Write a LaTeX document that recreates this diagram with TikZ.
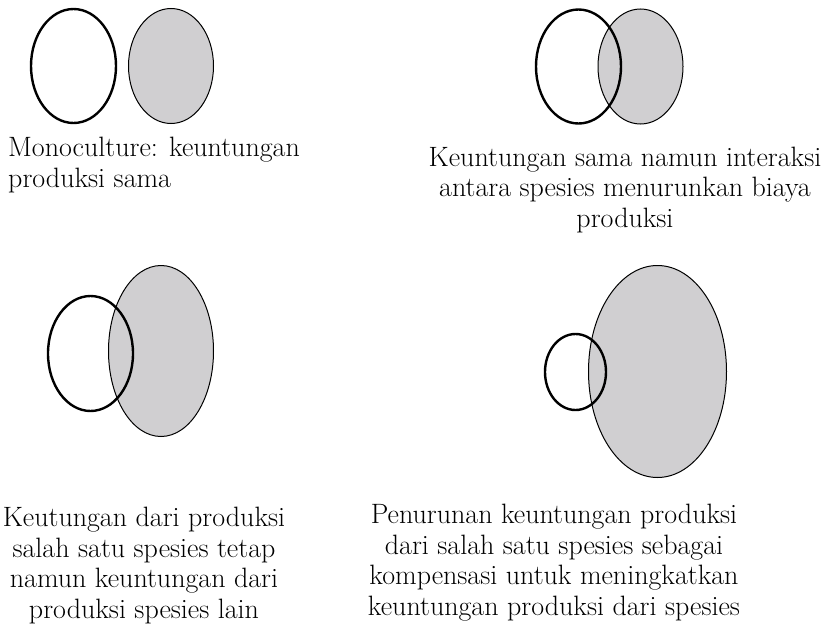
\documentclass[tikz,border=0pt]{standalone}
\usepackage{fontspec}
\usepackage{tikz}
\usetikzlibrary{shapes.geometric}
\definecolor{shade}{RGB}{208,207,209}

\begin{document}
\begin{tikzpicture}[
    x=1pt, y=-1pt,
    own/.style={ellipse, draw, line width=2.4pt, inner sep=0pt},
    other/.style={ellipse, draw, fill=shade, line width=1pt, inner sep=0pt},
    label text/.style={inner sep=0pt, font=\fontsize{28}{30.5}\selectfont}
  ]
  \useasboundingbox (0,0) rectangle (828,629);

  % monoculture
  \node[other, minimum width=85pt, minimum height=115pt] (g1) at (171,66) {};
  \node[own, minimum width=85pt, minimum height=114pt] (w1) at (73.5,66) {};
  \node[label text, align=left, anchor=base west] (t1) at (8,187) {Monoculture: keuntungan\\produksi sama};

  % same gain, lower cost
  \node[other, minimum width=85pt, minimum height=115pt] (g2) at (640.5,66.5) {};
  \node[own, minimum width=85pt, minimum height=114pt] (w2) at (578.5,66.5) {};
  \node[label text, align=center, anchor=base] (t2) at (625,227) {Keuntungan sama namun interaksi\\antara spesies menurunkan biaya\\produksi};

  % one species kept, the other gains
  \node[other, minimum width=105pt, minimum height=171pt] (g3) at (161,351) {};
  \node[own, minimum width=85pt, minimum height=115pt] (w3) at (90.5,353.5) {};
  \node[label text, align=center, anchor=base] (t3) at (144,618) {Keutungan dari produksi\\salah satu spesies tetap\\namun keuntungan dari\\produksi spesies lain};

  % one species loses, the other gains
  \node[other, minimum width=138pt, minimum height=212pt] (g4) at (657.5,371.5) {};
  \node[own, minimum width=61pt, minimum height=76pt] (w4) at (575.5,372) {};
  \node[label text, align=center, anchor=base] (t4) at (554,615) {Penurunan keuntungan produksi\\dari salah satu spesies sebagai\\kompensasi untuk meningkatkan\\keuntungan produksi dari spesies};
\end{tikzpicture}
\end{document}
